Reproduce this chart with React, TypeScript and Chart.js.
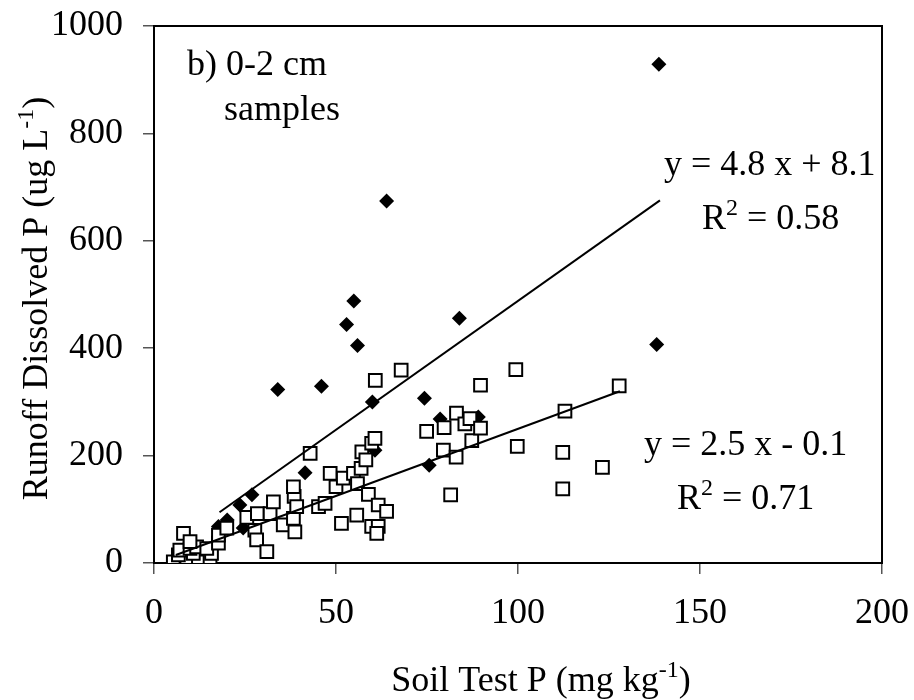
import React, { useEffect, useRef } from "react";
import { Chart, registerables } from "chart.js";

Chart.register(...registerables);

// 0-2 cm samples, filled diamonds
const diamondX = [17.7, 20.1, 24.5, 23.6, 26.9, 34.0, 41.5, 46.0, 52.9, 54.9, 55.9, 60.0, 60.7, 63.9, 74.3, 75.6, 78.6, 83.9, 89.1, 138.1, 138.7];
const diamondY = [68, 80, 65, 108, 127, 323, 168, 329, 444, 488, 405, 300, 210, 674, 307, 182, 268, 456, 272, 407, 929];

// open squares
const squareX = [5.3, 9.0, 12.2, 15.4, 6.7, 10.8, 15.8, 7.1, 9.9, 11.7, 14.5, 8.1, 9.9,
  17.7, 17.7, 20.0, 25.5, 27.7, 28.2, 28.4, 31.0, 31.9, 32.8, 35.5, 38.3, 38.7, 38.5, 38.3, 39.2,
  42.9, 45.2, 47.0, 48.4, 50.0, 51.5, 52.0, 54.8, 55.7, 55.9, 56.9, 57.1, 58.2, 58.9, 59.8, 60.7,
  59.8, 61.6, 61.2, 61.6, 63.9, 60.8, 67.9, 74.9, 79.7, 79.5, 81.5, 83.1, 83.0, 85.4, 86.8, 87.3,
  89.7, 89.7, 99.4, 99.8, 112.3, 112.3, 112.9, 123.2, 127.8];
const squareY = [2, 2, 2, 5, 15, 18, 18, 24, 27, 30, 27, 55, 40,
  37, 52, 65, 85, 61, 43, 92, 21, 92, 114, 71, 83, 58, 124, 142, 105,
  204, 105, 111, 167, 142, 74, 158, 167, 89, 148, 176, 207, 192, 128, 223, 232,
  68, 68, 55, 108, 96, 340, 359, 245, 252, 210, 127, 279, 197, 259, 269, 228,
  251, 331, 360, 217, 206, 138, 283, 178, 330];

// trend lines
const fit1 = { slope: 4.8, intercept: 8.1, xRange: [18, 139] };
const fit2 = { slope: 2.5, intercept: -0.1, xRange: [6, 128] };

const xTicks = [0, 50, 100, 150, 200];
const yTicks = [0, 200, 400, 600, 800, 1000];

const FONT = "'Liberation Serif', 'Times New Roman', serif";

type Seg = [string, boolean];

function drawRich(ctx: CanvasRenderingContext2D, segs: Seg[], x: number, y: number, align: "left" | "center") {
  const base = 36, sup = 24, raise = 14;
  let total = 0;
  for (const [t, s] of segs) {
    ctx.font = `${s ? sup : base}px ${FONT}`;
    total += ctx.measureText(t).width;
  }
  let cx = align === "center" ? x - total / 2 : x;
  ctx.textAlign = "left";
  ctx.textBaseline = "alphabetic";
  for (const [t, s] of segs) {
    ctx.font = `${s ? sup : base}px ${FONT}`;
    ctx.fillText(t, cx, s ? y - raise : y);
    cx += ctx.measureText(t).width;
  }
}

const textPlugin = {
  id: "richText",
  beforeDatasetsDraw(chart: any) {
    const { ctx, chartArea } = chart;
    ctx.save();
    ctx.strokeStyle = "#000";
    ctx.lineWidth = 2;
    ctx.strokeRect(chartArea.left, chartArea.top, chartArea.right - chartArea.left, chartArea.bottom - chartArea.top);
    ctx.restore();
  },
  afterDraw(chart: any) {
    const { ctx, chartArea } = chart;
    ctx.save();
    ctx.fillStyle = "#000";
    // x axis title
    drawRich(ctx, [["Soil Test P (mg kg", false], ["-1", true], [")", false]], 541, 691, "center");
    // y axis title
    ctx.save();
    ctx.translate(47, (chartArea.top + chartArea.bottom) / 2 + 4);
    ctx.rotate(-Math.PI / 2);
    drawRich(ctx, [["Runoff Dissolved P (ug L", false], ["-1", true], [")", false]], 0, 0, "center");
    ctx.restore();
    // annotations
    drawRich(ctx, [["b) 0-2 cm", false]], 187, 75, "left");
    drawRich(ctx, [["samples", false]], 224, 120, "left");
    drawRich(ctx, [["y = 4.8 x + 8.1", false]], 664, 175, "left");
    drawRich(ctx, [["R", false], ["2", true], [" = 0.58", false]], 702, 229, "left");
    drawRich(ctx, [["y = 2.5 x - 0.1", false]], 644, 455, "left");
    drawRich(ctx, [["R", false], ["2", true], [" = 0.71", false]], 677, 509, "left");
    ctx.restore();
  },
};

const noPad = (s: any) => {
  s.paddingLeft = 0;
  s.paddingRight = 0;
  s.paddingTop = 0;
  s.paddingBottom = 0;
};

export default function App() {
  const ref = useRef<HTMLCanvasElement | null>(null);
  useEffect(() => {
    document.body.style.margin = "0";
    if (!ref.current) return;
    const line = (f: { slope: number; intercept: number; xRange: number[] }) =>
      f.xRange.map((x) => ({ x, y: f.slope * x + f.intercept }));
    const chart = new Chart(ref.current, {
      type: "scatter",
      data: {
        datasets: [
          {
            label: "fit1",
            data: line(fit1),
            showLine: true,
            borderColor: "#000",
            borderWidth: 2,
            pointRadius: 0,
            order: 0,
          },
          {
            label: "fit2",
            data: line(fit2),
            showLine: true,
            borderColor: "#000",
            borderWidth: 2,
            pointRadius: 0,
            order: 0,
          },
          {
            label: "squares",
            data: squareX.map((x, i) => ({ x, y: squareY[i] })),
            pointStyle: "rect",
            pointRadius: 9,
            backgroundColor: "#fff",
            borderColor: "#000",
            borderWidth: 2,
            order: 1,
          },
          {
            label: "diamonds",
            data: diamondX.map((x, i) => ({ x, y: diamondY[i] })),
            pointStyle: "rectRot",
            pointRadius: 7.5,
            backgroundColor: "#000",
            borderColor: "#000",
            borderWidth: 0,
            order: 2,
          },
        ],
      } as any,
      options: {
        animation: false,
        responsive: false,
        layout: { padding: { left: 0, right: 32, top: 26, bottom: 0 } },
        plugins: { legend: { display: false }, tooltip: { enabled: false } },
        scales: {
          x: {
            type: "linear",
            min: 0,
            max: 200,
            afterBuildTicks: (s: any) => { s.ticks = xTicks.map((v) => ({ value: v })); },
            afterFit: (s: any) => { s.height = 137; noPad(s); },
            ticks: { font: { family: FONT, size: 36 }, color: "#000", padding: 18, autoSkip: false, maxRotation: 0, callback: (v: any) => String(v) },
            grid: { drawOnChartArea: false, drawTicks: true, tickLength: 11, color: "#555", lineWidth: 1.5 },
            border: { display: false },
          },
          y: {
            type: "linear",
            min: 0,
            max: 1000,
            afterBuildTicks: (s: any) => { s.ticks = yTicks.map((v) => ({ value: v })); },
            afterFit: (s: any) => { s.width = 154; noPad(s); },
            ticks: { font: { family: FONT, size: 36 }, color: "#000", padding: 20, autoSkip: false, callback: (v: any) => String(v) },
            grid: { drawOnChartArea: false, drawTicks: true, tickLength: 11, color: "#555", lineWidth: 1.5 },
            border: { display: false },
          },
        },
      },
      plugins: [textPlugin],
    });
    return () => chart.destroy();
  }, []);
  return <canvas ref={ref} width={914} height={700} style={{ display: "block" }} />;
}
